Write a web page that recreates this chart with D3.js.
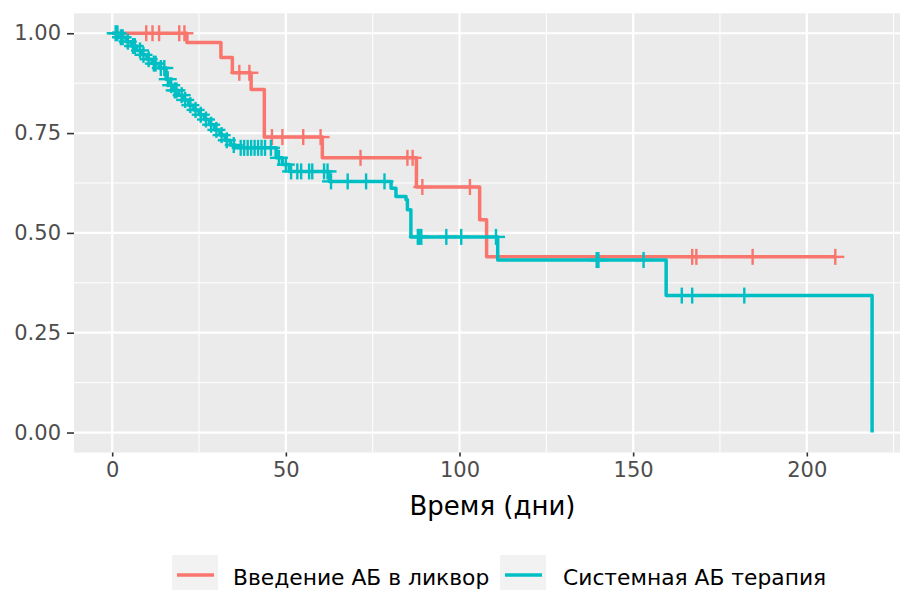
<!DOCTYPE html>
<html>
<head>
<meta charset="utf-8">
<script src="https://cdn.jsdelivr.net/npm/d3@7"></script>
<style>
  body { margin: 0; background: #fff; }
  svg { display: block; }
</style>
</head>
<body>
<div id="chart"></div>
<script>
// Kaplan-Meier data

const seriesNames = ["Введение АБ в ликвор", "Системная АБ терапия"];
const seriesColors = ["#F8766D", "#00BFC4"];

const redTime = [21.5, 31.3, 34.6, 40, 43.8, 60.5, 87.6, 105.8, 107.8];
const redSurv = [0.977, 0.939, 0.901, 0.859, 0.74, 0.688, 0.615, 0.533, 0.44];
const redEnd = 208.2;
const redCensor = [9.8, 11.6, 13.5, 19.3, 20.8, 36.6, 39.5, 46, 49, 55, 60, 71.5, 85, 86.5,
  89.3, 103, 167, 168.2, 184.4, 208.2];

const cyanTime = [2, 4, 5.5, 7, 8.5, 10, 11.5, 13.5, 15.5, 16.5, 17.5, 19, 20.5, 22, 23.5, 25,
  26.5, 28, 29.5, 31, 32.5, 34, 35.5, 47.2, 49, 51, 62.5, 80.3, 81.7, 84.6, 85, 86, 111, 159.5, 218.8];
const cyanSurv = [0.99, 0.979, 0.968, 0.957, 0.946, 0.935, 0.924, 0.913, 0.885, 0.87, 0.857, 0.845,
  0.833, 0.82, 0.808, 0.796, 0.784, 0.771, 0.758, 0.745, 0.732, 0.72, 0.713, 0.688, 0.671, 0.654,
  0.629, 0.612, 0.591, 0.583, 0.558, 0.49, 0.432, 0.343, 0];
const cyanEnd = 218.8;
const cyanCensor = [1, 1.5, 2.5, 3, 4.5, 6, 6.5, 8, 9, 10.5, 12, 12.5, 14, 15, 16, 17, 18, 18.5,
  20, 21, 22.5, 24, 25.5, 27, 28.5, 30, 31.5, 33, 35, 37, 38, 39, 40, 41, 42, 43, 44, 45.7, 48, 50,
  51.5, 53.3, 54.4, 56.7, 57.6, 61, 62, 63, 67.8, 73.1, 78.4, 88, 88.5, 89, 96.2, 100.5, 110.5,
  139.5, 140, 153, 164, 167, 182];

const xTicks = [0, 50, 100, 150, 200];
const xMinor = [25, 75, 125, 175, 225];
const yTicks = [0, 0.25, 0.5, 0.75, 1];
const yMinor = [0.125, 0.375, 0.625, 0.875];

const xTitle = "Время (дни)";

//Set up size and scales

const W = 900, H = 590;
const panel = { left: 74, right: 911, top: 13.3, bottom: 452.5 };

const x = d3.scaleLinear().domain([-11, 230]).range([panel.left, panel.right]);
const y = d3.scaleLinear().domain([-0.05, 1.05]).range([panel.bottom, panel.top]);

const svg = d3.select("#chart")
  .append("svg")
    .attr("width", W)
    .attr("height", H)
    .style("font-family", "'DejaVu Sans', sans-serif");

//Panel background and grid

svg.append("rect")
  .attr("x", panel.left)
  .attr("y", panel.top)
  .attr("width", panel.right - panel.left)
  .attr("height", panel.bottom - panel.top)
  .attr("fill", "#EBEBEB");

svg.selectAll(".xminor")
  .data(xMinor)
  .join("line")
  .attr("x1", d => x(d)).attr("x2", d => x(d))
  .attr("y1", panel.top).attr("y2", panel.bottom)
  .attr("stroke", "#fff").attr("stroke-width", 1);

svg.selectAll(".yminor")
  .data(yMinor)
  .join("line")
  .attr("x1", panel.left).attr("x2", panel.right)
  .attr("y1", d => y(d)).attr("y2", d => y(d))
  .attr("stroke", "#fff").attr("stroke-width", 1);

svg.selectAll(".xmajor")
  .data(xTicks)
  .join("line")
  .attr("x1", d => x(d)).attr("x2", d => x(d))
  .attr("y1", panel.top).attr("y2", panel.bottom)
  .attr("stroke", "#fff").attr("stroke-width", 2.2);

svg.selectAll(".ymajor")
  .data(yTicks)
  .join("line")
  .attr("x1", panel.left).attr("x2", panel.right)
  .attr("y1", d => y(d)).attr("y2", d => y(d))
  .attr("stroke", "#fff").attr("stroke-width", 2.2);

//Axes

svg.append("g")
  .attr("transform", `translate(0,${panel.bottom})`)
  .call(d3.axisBottom(x).tickValues(xTicks).tickFormat(d3.format("d")).tickSize(4).tickPadding(6))
  .call(g => g.select(".domain").remove())
  .call(g => g.selectAll(".tick line").attr("stroke", "#333").attr("stroke-width", 1.6))
  .selectAll(".tick text")
    .attr("fill", "#4D4D4D")
    .style("font-size", "21px")
    .style("font-family", "'DejaVu Sans', sans-serif");

svg.append("g")
  .attr("transform", `translate(${panel.left},0)`)
  .call(d3.axisLeft(y).tickValues(yTicks).tickFormat(d3.format(".2f")).tickSize(7).tickPadding(6))
  .call(g => g.select(".domain").remove())
  .call(g => g.selectAll(".tick line").attr("stroke", "#333").attr("stroke-width", 1.6))
  .selectAll(".tick text")
    .attr("fill", "#4D4D4D")
    .style("font-size", "21px")
    .style("font-family", "'DejaVu Sans', sans-serif");

svg.append("text")
  .attr("x", (panel.left + panel.right) / 2)
  .attr("y", 515)
  .attr("text-anchor", "middle")
  .style("font-size", "26px")
  .attr("fill", "#000")
  .text(xTitle);

//Survival curves

function steps(times, surv, end) {
  const pts = [[0, 1]];
  times.forEach((t, i) => pts.push([t, surv[i]]));
  if (end > times[times.length - 1]) pts.push([end, surv[surv.length - 1]]);
  return pts;
}

function survAt(times, surv, t) {
  let s = 1;
  times.forEach((tt, i) => { if (tt <= t) s = surv[i]; });
  return s;
}

const series = [
  { name: seriesNames[0], color: seriesColors[0], pts: steps(redTime, redSurv, redEnd),
    cens: redCensor.map(t => [t, survAt(redTime, redSurv, t)]) },
  { name: seriesNames[1], color: seriesColors[1], pts: steps(cyanTime, cyanSurv, cyanEnd),
    cens: cyanCensor.map(t => [t, survAt(cyanTime, cyanSurv, t)]) }
];

const line = d3.line()
  .x(d => x(d[0]))
  .y(d => y(d[1]))
  .curve(d3.curveStepAfter);

const plot = svg.append("g");

series.forEach(s => {
  plot.append("path")
    .datum(s.pts)
    .attr("d", line)
    .attr("fill", "none")
    .attr("stroke", s.color)
    .attr("stroke-width", 3.5)
    .attr("stroke-linejoin", "round");

  const marks = plot.append("g")
    .selectAll("g")
    .data(s.cens)
    .join("g")
    .attr("transform", d => `translate(${x(d[0])},${y(d[1])})`);
  marks.append("line")
    .attr("x1", -9).attr("x2", 9).attr("y1", 0).attr("y2", 0)
    .attr("stroke", s.color).attr("stroke-width", 2.4);
  marks.append("line")
    .attr("x1", 0).attr("x2", 0).attr("y1", -8).attr("y2", 8)
    .attr("stroke", s.color).attr("stroke-width", 2.4);
});

//Legend

const legendItems = [
  { box: 172, text: 233 },
  { box: 500, text: 563 }
];

series.forEach((s, i) => {
  const li = legendItems[i];
  svg.append("rect")
    .attr("x", li.box).attr("y", 555)
    .attr("width", 46).attr("height", 46)
    .attr("fill", "#F2F2F2");
  svg.append("line")
    .attr("x1", li.box + 5).attr("x2", li.box + 42)
    .attr("y1", 575).attr("y2", 575)
    .attr("stroke", s.color).attr("stroke-width", 3.5);
  svg.append("text")
    .attr("x", li.text).attr("y", 585)
    .style("font-size", "21.8px")
    .attr("fill", "#000")
    .text(s.name);
});
</script>
</body>
</html>
